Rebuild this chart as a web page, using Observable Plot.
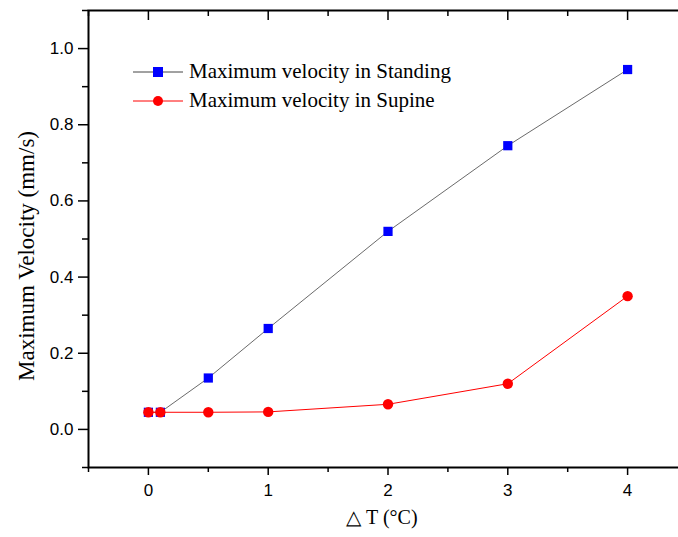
<!DOCTYPE html>
<html>
<head>
<meta charset="utf-8">
<script src="https://cdn.jsdelivr.net/npm/d3@7"></script>
<script src="https://cdn.jsdelivr.net/npm/@observablehq/plot@0.6"></script>
<style>
  html, body { margin: 0; padding: 0; background: #fff; }
  #wrap { position: relative; width: 678px; height: 537px; overflow: hidden; }
  #legend { position: absolute; left: 133px; top: 57px; font-family: "Liberation Serif", "Times New Roman", serif; font-size: 21px; color: #000; }
  #legend .row { display: flex; align-items: center; height: 29px; }
  #legend svg { display: block; margin-right: 6px; }
</style>
</head>
<body>
<div id="wrap"></div>
<script>
const dT = [0, 0.1, 0.5, 1, 2, 3, 4];
const standing = [0.045, 0.045, 0.135, 0.265, 0.52, 0.745, 0.945];
const supine = [0.045, 0.045, 0.045, 0.046, 0.066, 0.12, 0.35];
const seriesNames = ["Maximum velocity in Standing", "Maximum velocity in Supine"];
const xMajor = [0, 1, 2, 3, 4];
const xMinor = [-0.5, 0.5, 1.5, 2.5, 3.5, 4.5];
const yMajor = [0, 0.2, 0.4, 0.6, 0.8, 1.0];
const yMinor = [-0.1, 0.1, 0.3, 0.5, 0.7, 0.9, 1.1];
const xTitle = "△ T (°C)";
const yTitle = "Maximum Velocity (mm/s)";

const standingData = dT.map((x, i) => ({x, y: standing[i]}));
const supineData = dT.map((x, i) => ({x, y: supine[i]}));

const sans = "'Liberation Sans', Arial, sans-serif";
const serif = "'Liberation Serif', 'Times New Roman', serif";

const chart = Plot.plot({
  width: 678,
  height: 537,
  marginLeft: 88,
  marginRight: -9,
  marginTop: 10,
  marginBottom: 70,
  style: {fontFamily: sans, fontSize: "17px", background: "#fff", color: "#000"},
  x: {domain: [-0.5, 4.5], axis: null},
  y: {domain: [-0.1, 1.1], axis: null},
  marks: [
    Plot.axisY({anchor: "left", label: null, ticks: yMajor, tickSize: 10, tickPadding: 5, tickFormat: d3.format(".1f"), strokeWidth: 1.5, fontSize: 17}),
    Plot.axisY({anchor: "left", label: null, ticks: yMinor, tickSize: 6, text: null, strokeWidth: 1.5}),
    Plot.axisY({anchor: "right", label: null, ticks: yMajor, tickSize: -10, text: null, strokeWidth: 1.5}),
    Plot.axisY({anchor: "right", label: null, ticks: yMinor, tickSize: -6, text: null, strokeWidth: 1.5}),
    Plot.axisX({anchor: "bottom", label: null, ticks: xMajor, tickSize: 8, tickPadding: 8, tickFormat: d3.format("d"), strokeWidth: 1.5, fontSize: 17}),
    Plot.axisX({anchor: "bottom", label: null, ticks: xMinor, tickSize: 5, text: null, strokeWidth: 1.5}),
    Plot.axisX({anchor: "top", label: null, ticks: xMajor, tickSize: -9, text: null, strokeWidth: 1.5}),
    Plot.axisX({anchor: "top", label: null, ticks: xMinor, tickSize: -5, text: null, strokeWidth: 1.5}),
    Plot.frame({stroke: "#000", strokeWidth: 2}),
    Plot.line(standingData, {x: "x", y: "y", stroke: "#444", strokeWidth: 0.8}),
    Plot.dot(standingData, {x: "x", y: "y", symbol: "square", r: 5.2, fill: "#0000ff", stroke: null}),
    Plot.line(supineData, {x: "x", y: "y", stroke: "#ff0000", strokeWidth: 1}),
    Plot.dot(supineData, {x: "x", y: "y", symbol: "circle", r: 5.2, fill: "#ff0000", stroke: null}),
    Plot.text([yTitle], {text: d => d, frameAnchor: "left", textAnchor: "middle", lineAnchor: "middle", dx: -62, dy: 17, rotate: -90, fontFamily: serif, fontSize: 23, fill: "#000"}),
    Plot.text([xTitle], {text: d => d, frameAnchor: "bottom", textAnchor: "middle", lineAnchor: "middle", dx: -6, dy: 50, fontFamily: serif, fontSize: 20, fill: "#000"})
  ]
});

const wrap = document.getElementById("wrap");
wrap.appendChild(chart);

const legend = document.createElement("div");
legend.id = "legend";
const styles = [
  {line: "#444", fill: "#0000ff", shape: "square"},
  {line: "#ff0000", fill: "#ff0000", shape: "circle"}
];
seriesNames.forEach((name, i) => {
  const row = document.createElement("div");
  row.className = "row";
  const s = styles[i];
  const marker = s.shape === "square"
    ? `<rect x="20" y="5" width="10" height="10" fill="${s.fill}"/>`
    : `<circle cx="25" cy="10" r="5" fill="${s.fill}"/>`;
  row.innerHTML = `<svg width="50" height="20"><line x1="0" x2="50" y1="10" y2="10" stroke="${s.line}" stroke-width="1"/>${marker}</svg><span>${name}</span>`;
  legend.appendChild(row);
});
wrap.appendChild(legend);
</script>
</body>
</html>
